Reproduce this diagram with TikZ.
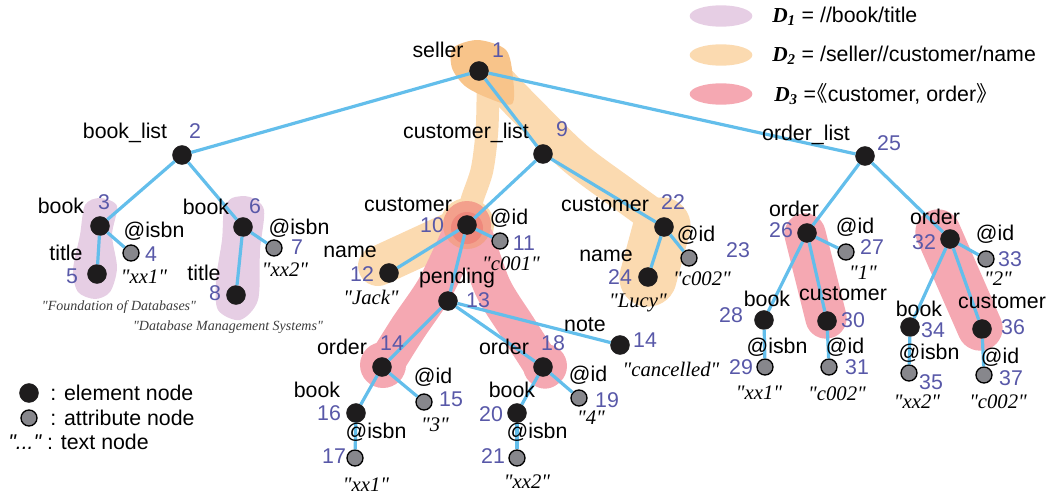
\documentclass[tikz,border=0pt]{standalone}
\usepackage{fontspec}
\setmainfont{Liberation Serif}
\setsansfont{Liberation Sans}
% families without the TeX quote mapping, so " stays a straight quote
\newfontfamily\valfont{Liberation Serif}
\newfontfamily\valsans{Liberation Sans}
\newfontfamily\cjkfont{Noto Sans CJK SC}
\usetikzlibrary{shapes.geometric}

\definecolor{edgeblue}{RGB}{99,190,235}
\definecolor{numblue}{RGB}{88,88,168}
\definecolor{nodeblack}{RGB}{30,28,29}
\definecolor{attrgray}{RGB}{135,135,140}
\definecolor{purp}{RGB}{230,206,228}
\definecolor{orlight}{RGB}{251,218,176}
\definecolor{ordark}{RGB}{248,196,138}
\definecolor{pinkred}{RGB}{245,168,178}
\definecolor{salmon}{RGB}{243,160,140}
\definecolor{salmondark}{RGB}{239,136,124}
\definecolor{titlegray}{RGB}{60,60,60}

\begin{document}
\begin{tikzpicture}[x=0.75pt,y=-0.75pt,
  el/.style={circle, fill=nodeblack, draw=nodeblack, minimum size=14.2pt, inner sep=0pt},
  attr/.style={circle, fill=attrgray, draw=black, line width=1pt, minimum size=12pt, inner sep=0pt},
  tag/.style={font=\sffamily\fontsize{16}{18}\selectfont, inner sep=0pt},
  num/.style={tag, text=numblue},
  txt/.style={font=\valfont\itshape\fontsize{15.5}{18}\selectfont, inner sep=0pt},
  smalltxt/.style={font=\valfont\itshape\fontsize{10.5}{12}\selectfont, text=titlegray, inner sep=0pt},
  edge/.style={draw=edgeblue, line width=2.4pt},
  band/.style={line cap=round, line join=round},
  keyblob/.style={ellipse, minimum width=47pt, minimum height=16pt, inner sep=0pt}
]
\useasboundingbox (0,0) rectangle (1052,500);

% ---------- D1 regions: //book/title ----------
\fill[purp] plot[smooth cycle] coordinates {(85,205) (100,198) (117,206) (112,235) (117,268) (110,292) (95,299) (78,292) (73,270) (80,235)};
\fill[purp] plot[smooth cycle] coordinates {(232,198) (250,197) (264,210) (260,250) (258,300) (240,320) (218,310) (216,280) (222,240) (224,210)};

% ---------- D2 regions: /seller//customer/name ----------
\draw[band, orlight, line width=17pt] plot[smooth] coordinates {(488,85) (487,130) (482,170) (472,200) (467,222)};
\draw[band, orlight, line width=30pt] (467,225) -- (378,266);
\fill[orlight] (467,225) circle [radius=27];
\draw[band, orlight, line width=26pt] plot[smooth] coordinates {(495,78) (532,116) (575,158) (622,193) (662,222)};
\draw[band, orlight, line width=43pt] (662,226) -- (648,278);
\fill[ordark] plot[smooth cycle] coordinates {(453,48) (478,40) (506,50) (513,78) (512,104) (488,98) (465,86) (452,68)};

% ---------- D3 regions: <<customer, order>> ----------
\draw[band, pinkred, line width=28pt] plot[smooth] coordinates {(458,240) (435,288) (408,328) (383,368)};
\draw[band, pinkred, line width=28pt] plot[smooth] coordinates {(476,240) (493,288) (518,328) (545,370)};
\fill[pinkred] (383,365) circle [radius=23];
\fill[pinkred] (545,366) circle [radius=22];
\fill[salmon] (467,225) circle [radius=24];
\fill[salmondark] (467,228) circle [radius=16];
\draw[band, pinkred, line width=31pt] (805,234) -- (826,318);
\draw[band, pinkred, line width=34pt] (938,232) -- (980,328);

% ---------- tree nodes ----------
\node[el] (n1) at (479,71) {};
\node[el] (n2) at (182,155) {};
\node[el] (n3) at (100,226) {};
\node[attr] (n4) at (131,253) {};
\node[el] (n5) at (97,274) {};
\node[el] (n6) at (243,227) {};
\node[attr] (n7) at (274,248) {};
\node[el] (n8) at (236,295) {};
\node[el] (n9) at (543,154) {};
\node[el] (n10) at (467,225) {};
\node[attr] (n11) at (500,241) {};
\node[el] (n12) at (389,273) {};
\node[el] (n13) at (448,301) {};
\node[el] (n14) at (382,367) {};
\node[el] (note) at (620,345) {};
\node[attr] (n15) at (424,402) {};
\node[el] (n16) at (356,413) {};
\node[attr] (n17) at (355,458) {};
\node[el] (n18) at (543,367) {};
\node[attr] (n19) at (579,398) {};
\node[el] (n20) at (517,413) {};
\node[attr] (n21) at (517,458) {};
\node[el] (n22) at (664,227) {};
\node[attr] (n23) at (689,258) {};
\node[el] (n24) at (648,277) {};
\node[el] (n25) at (865,156) {};
\node[el] (n26) at (807,233) {};
\node[attr] (n27) at (846,252) {};
\node[el] (n28) at (764,320) {};
\node[attr] (n29) at (765,367) {};
\node[el] (n30) at (827,321) {};
\node[attr] (n31) at (829,367) {};
\node[el] (n32) at (950,239) {};
\node[attr] (n33) at (986,259) {};
\node[el] (n34) at (910,327) {};
\node[attr] (n35) at (909,373) {};
\node[el] (n36) at (982,329) {};
\node[attr] (n37) at (984,375) {};

% ---------- edges ----------
\foreach \a/\b in {n1/n2,n1/n9,n1/n25,n2/n3,n2/n6,n3/n4,n3/n5,n6/n7,n6/n8,
  n9/n10,n9/n22,n10/n11,n10/n12,n10/n13,n13/n14,n13/n18,n13/note,
  n14/n15,n14/n16,n16/n17,n18/n19,n18/n20,n20/n21,n22/n23,n22/n24,
  n25/n26,n25/n32,n26/n27,n26/n28,n26/n30,n28/n29,n30/n31,
  n32/n33,n32/n34,n32/n36,n34/n35,n36/n37}
  \draw[edge] (\a) -- (\b);

% ---------- element / attribute names ----------
\node[tag] (t1) at (438,50) {seller};
\node[tag] (t2) at (125,133) {book\_list};
\node[tag] (t3) at (61,206) {book};
\node[tag] (t4) at (154,231) {@isbn};
\node[tag] (t5) at (66,253) {title};
\node[tag] (t6) at (206,207) {book};
\node[tag] (t7) at (299,228) {@isbn};
\node[tag] (t8) at (204,273) {title};
\node[tag] (t9) at (466,133) {customer\_list};
\node[tag] (t10) at (408,205) {customer};
\node[tag] (t11) at (509,218) {@id};
\node[tag] (t12) at (350,252) {name};
\node[tag] (t13) at (457,278) {pending};
\node[tag] (tnote) at (585,325) {note};
\node[tag] (t14) at (342,347) {order};
\node[tag] (t15) at (433,377) {@id};
\node[tag] (t16) at (317,390) {book};
\node[tag] (t17) at (376,432) {@isbn};
\node[tag] (t18) at (504,347) {order};
\node[tag] (t19) at (588,375) {@id};
\node[tag] (t20) at (512,390) {book};
\node[tag] (t21) at (537,432) {@isbn};
\node[tag] (t22) at (605,205) {customer};
\node[tag] (t23) at (696,235) {@id};
\node[tag] (t24) at (606,256) {name};
\node[tag] (t25) at (806,135) {order\_list};
\node[tag] (t26) at (794,209) {order};
\node[tag] (t27) at (855,227) {@id};
\node[tag] (t28) at (767,299) {book};
\node[tag] (t29) at (777,347) {@isbn};
\node[tag] (t30) at (843,294) {customer};
\node[tag] (t31) at (845,347) {@id};
\node[tag] (t32) at (935,217) {order};
\node[tag] (t33) at (995,234) {@id};
\node[tag] (t34) at (919,309) {book};
\node[tag] (t35) at (929,353) {@isbn};
\node[tag] (t36) at (1002,302) {customer};
\node[tag] (t37) at (1000,357) {@id};

% ---------- node numbers ----------
\node[num] (d1) at (498,50) {1};
\node[num] (d2) at (195,131) {2};
\node[num] (d3) at (104,202) {3};
\node[num] (d4) at (151,254) {4};
\node[num] (d5) at (72,276) {5};
\node[num] (d6) at (255,206) {6};
\node[num] (d7) at (297,247) {7};
\node[num] (d8) at (215,293) {8};
\node[num] (d9) at (562,129) {9};
\node[num] (d10) at (432,225) {10};
\node[num] (d11) at (524,243) {11};
\node[num] (d12) at (362,274) {12};
\node[num] (d13) at (478,300) {13};
\node[num] (dnote) at (645,340) {14};
\node[num] (d14) at (392,343) {14};
\node[num] (d15) at (451,399) {15};
\node[num] (d16) at (329,413) {16};
\node[num] (d17) at (334,456) {17};
\node[num] (d18) at (553,343) {18};
\node[num] (d19) at (607,400) {19};
\node[num] (d20) at (491,414) {20};
\node[num] (d21) at (493,456) {21};
\node[num] (d22) at (673,202) {22};
\node[num] (d23) at (738,250) {23};
\node[num] (d24) at (620,277) {24};
\node[num] (d25) at (889,143) {25};
\node[num] (d26) at (781,230) {26};
\node[num] (d27) at (872,247) {27};
\node[num] (d28) at (731,315) {28};
\node[num] (d29) at (741,367) {29};
\node[num] (d30) at (853,320) {30};
\node[num] (d31) at (857,367) {31};
\node[num] (d32) at (924,242) {32};
\node[num] (d33) at (1010,259) {33};
\node[num] (d34) at (933,330) {34};
\node[num] (d35) at (931,382) {35};
\node[num] (d36) at (1013,327) {36};
\node[num] (d37) at (1011,378) {37};

% ---------- text values ----------
\node[txt] (v4) at (144,277) {"xx1"};
\node[txt] (v7) at (285,270) {"xx2"};
\node[smalltxt] (v5) at (119,307) {"Foundation of Databases"};
\node[smalltxt] (v8) at (228,327) {"Database Management Systems"};
\node[txt] (v11) at (511,264) {"c001"};
\node[txt] (v12) at (371,297) {"Jack"};
\node[txt] (v24) at (638,303) {"Lucy"};
\node[txt] (v23) at (702,279) {"c002"};
\node[txt] (vnote) at (671,369) {"cancelled"};
\node[txt] (v15) at (435,425) {"3"};
\node[txt] (v17) at (366,485) {"xx1"};
\node[txt] (v19) at (591,418) {"4"};
\node[txt] (v21) at (527,482) {"xx2"};
\node[txt] (v27) at (863,273) {"1"};
\node[txt] (v29) at (759,393) {"xx1"};
\node[txt] (v31) at (837,394) {"c002"};
\node[txt] (v33) at (998,279) {"2"};
\node[txt] (v35) at (917,402) {"xx2"};
\node[txt] (v37) at (998,402) {"c002"};

% ---------- key: regions ----------
\node[keyblob, fill=purp] (k1) at (721,16) {};
\node[keyblob, fill=orlight] (k2) at (721,55) {};
\node[keyblob, fill=pinkred] (k3) at (721,94) {};
\node[tag, anchor=west] (kt1) at (772,16) {{\rmfamily\bfseries\itshape D\textsubscript{1}} = //book/title};
\node[tag, anchor=west] (kt2) at (772,55) {{\rmfamily\bfseries\itshape D\textsubscript{2}} = /seller//customer/name};
\node[tag, anchor=west] (kt3) at (774,94) {{\rmfamily\bfseries\itshape D\textsubscript{3}} =\kern-0.45em{\cjkfont 《}customer, order{\cjkfont 》}};

% ---------- key: node kinds ----------
\node[el] (ke) at (29,393) {};
\node[attr] (ka) at (29,418) {};
\node[tag, anchor=west] (kte) at (50,393) {: element node};
\node[tag, anchor=west] (kta) at (50,418) {: attribute node};
\node[tag, anchor=west] (ktt) at (8,442) {{\valsans\itshape"..."} : text node};
\end{tikzpicture}
\end{document}
